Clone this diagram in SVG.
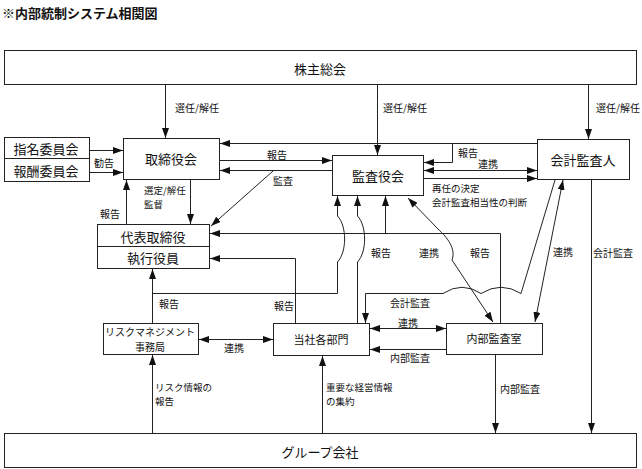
<svg xmlns="http://www.w3.org/2000/svg" width="642" height="469" viewBox="0 0 642 469">
<style>
.box{fill:#fff;stroke:#222;stroke-width:1}
.t{font-family:"Noto Sans CJK JP","Noto Sans CJK SC",sans-serif;fill:#111;dominant-baseline:central}
.n{font-size:13px;text-anchor:middle}
.s{font-size:11px;text-anchor:middle}
.l{font-size:10px}
.m{font-size:9.5px}
.c{text-anchor:middle}
.ln{fill:none;stroke:#222;stroke-width:1}
.e{marker-end:url(#ah)}
.b{marker-start:url(#ah);marker-end:url(#ah)}
</style>
<defs>
<marker id="ah" viewBox="0 0 10 7" refX="10" refY="3.5" markerWidth="10" markerHeight="7" markerUnits="userSpaceOnUse" orient="auto-start-reverse">
<path d="M0,0 L10,3.5 L0,7 z" fill="#111"/>
</marker>
</defs>
<rect width="642" height="469" fill="#fff"/>
<text class="t" x="2" y="12" font-size="13" font-weight="bold">※内部統制システム相関図</text>

<g id="kabunushi"><rect class="box" x="4.5" y="50.5" width="632" height="34"/><text class="t n" x="320" y="68">株主総会</text></g>
<g id="torishimariyakukai"><rect class="box" x="123.5" y="138.5" width="96" height="41"/><text class="t n" x="171" y="158">取締役会</text></g>
<g id="shimei"><rect class="box" x="4.5" y="137.5" width="85" height="21"/><text class="t n" x="46" y="148">指名委員会</text></g>
<g id="houshu"><rect class="box" x="4.5" y="158.5" width="85" height="23"/><text class="t n" x="46" y="170">報酬委員会</text></g>
<g id="kansayakukai"><rect class="box" x="332.5" y="155.5" width="91" height="40"/><text class="t n" x="378" y="175">監査役会</text></g>
<g id="kaikeikansanin"><rect class="box" x="537.5" y="139.5" width="92" height="40"/><text class="t n" x="583" y="159">会計監査人</text></g>
<g id="daihyo"><rect class="box" x="97.5" y="224.5" width="112" height="22"/><text class="t n" x="153" y="236">代表取締役</text></g>
<g id="shikko"><rect class="box" x="97.5" y="246.5" width="112" height="22"/><text class="t n" x="153" y="257">執行役員</text></g>
<g id="risk"><rect class="box" x="103.5" y="323.5" width="95" height="31"/><text class="t l c" x="150" y="331.5">リスクマネジメント</text><text class="t l c" x="150" y="346.5">事務局</text></g>
<g id="kakubumon"><rect class="box" x="273.5" y="323.5" width="96" height="32"/><text class="t s" x="321" y="339">当社各部門</text></g>
<g id="naibukansa"><rect class="box" x="446.5" y="323.5" width="96" height="31"/><text class="t s" x="494" y="338">内部監査室</text></g>
<g id="group"><rect class="box" x="4.5" y="433.5" width="632" height="34"/><text class="t n" x="320" y="451">グループ会社</text></g>

<g id="connectors">
<path class="ln e" d="M165.5,85 V138"/>
<path class="ln e" d="M377.5,85 V155"/>
<path class="ln e" d="M588.5,85 V139"/>
<path class="ln e" d="M90,150.5 H123"/>
<path class="ln e" d="M90,172.5 H123"/>
<path class="ln e" d="M190.5,180 V224"/>
<path class="ln e" d="M126.5,224 V180"/>
<path class="ln e" d="M537,143.5 H220"/>
<path class="ln e" d="M452.5,143.5 V162.5 H424"/>
<path class="ln e" d="M220,160.5 H332"/>
<path class="ln e" d="M332,170.5 H220"/>
<path class="ln e" d="M273,171 L211,226"/>
<path class="ln b" d="M424,170.5 H537"/>
<path class="ln e" d="M424,178.5 H537"/>
<path class="ln e" d="M500.5,323 V233.5 H210"/>
<path class="ln e" d="M385.5,233.5 V196"/>
<path class="ln e" d="M295.5,323 V258.5 H210"/>
<path class="ln e" d="M152.5,323 V269"/>
<path class="ln e" d="M152.5,293.5 H337.5 V262 C347,252 347,226 337.5,216 V196"/>
<path class="ln e" d="M357.5,323 V262 C367,252 367,226 357.5,216 V196"/>
<path class="ln e" d="M555,180 L521,293.5 Q501,281 481,293.5 Q462,281 443,293.5 H365.5 V323"/>
<path class="ln b" d="M408,198 L438,229 C448,238 456,249 452,260 L493,322"/>
<path class="ln b" d="M563,180 L535,322"/>
<path class="ln e" d="M591.5,180 V433"/>
<path class="ln e" d="M495.5,355 V433"/>
<path class="ln b" d="M199,339.5 H273"/>
<path class="ln b" d="M370,328.5 H446"/>
<path class="ln e" d="M446,349.5 H370"/>
<path class="ln e" d="M152.5,433 V355"/>
<path class="ln e" d="M322.5,433 V356"/>
</g>

<g id="labels">
<text class="t l" x="175" y="107">選任/解任</text>
<text class="t l" x="383" y="107">選任/解任</text>
<text class="t l" x="596" y="107">選任/解任</text>
<text class="t l c" x="104" y="162">勧告</text>
<text class="t l c" x="277" y="154">報告</text>
<text class="t l c" x="283" y="180">監査</text>
<text class="t l c" x="468" y="152">報告</text>
<text class="t l c" x="488" y="163">連携</text>
<text class="t m" x="432" y="188">再任の決定</text>
<text class="t m" x="432" y="202">会計監査相当性の判断</text>
<text class="t m" x="144" y="190">選定/解任</text>
<text class="t m" x="144" y="204">監督</text>
<text class="t l c" x="110" y="213">報告</text>
<text class="t l c" x="381" y="252">報告</text>
<text class="t l c" x="429" y="252">連携</text>
<text class="t l c" x="480" y="252">報告</text>
<text class="t l c" x="563" y="251">連携</text>
<text class="t l c" x="613" y="252">会計監査</text>
<text class="t l c" x="410" y="302">会計監査</text>
<text class="t l c" x="169" y="303">報告</text>
<text class="t l c" x="284" y="305">報告</text>
<text class="t l c" x="408" y="322">連携</text>
<text class="t l c" x="410" y="357">内部監査</text>
<text class="t l c" x="234" y="347">連携</text>
<text class="t m" x="155" y="387">リスク情報の</text>
<text class="t m" x="155" y="401">報告</text>
<text class="t m" x="326" y="387">重要な経営情報</text>
<text class="t m" x="326" y="401">の集約</text>
<text class="t l" x="500" y="388">内部監査</text>
</g>
</svg>
